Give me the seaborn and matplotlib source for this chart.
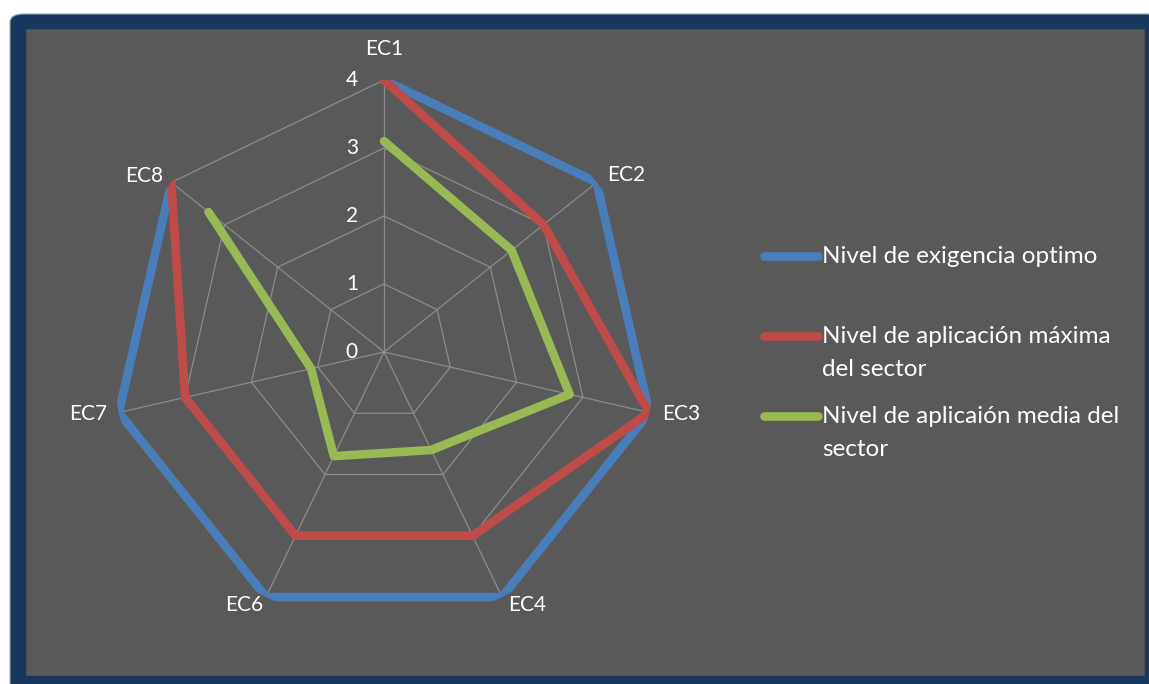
import numpy as np
import pandas as pd
import matplotlib
matplotlib.use("Agg")
import matplotlib.pyplot as plt
import seaborn as sns
from matplotlib.patches import FancyBboxPatch, Rectangle
from matplotlib.lines import Line2D

# datos del gráfico radar
categorias = ["EC1", "EC2", "EC3", "EC4", "EC6", "EC7", "EC8"]
exigencia_optimo = [4, 4, 4, 4, 4, 4, 4]
aplicacion_maxima = [4, 3, 4, 3, 3, 3, 4]
aplicacion_media = [3.1, 2.4, 2.8, 1.6, 1.7, 1.1, 3.3]
series_nombres = [
    "Nivel de exigencia optimo",
    "Nivel de aplicación máxima\ndel sector",
    "Nivel de aplicaión media del\nsector",
]
niveles = [0, 1, 2, 3, 4]

colores = ["#4A7EBB", "#BE4B48", "#98B954"]
FONDO = "#595959"
MARCO = "#17375E"
GRID = "#8C8C8C"

W, H = 1149, 684
sns.set_theme(style="white")
plt.rcParams["font.family"] = ["Lato", "DejaVu Sans"]

fig = plt.figure(figsize=(W / 100, H / 100), dpi=100, facecolor="white")


def fx(px):
    return px / W


def fy(py):
    return 1 - py / H


# marco azul oscuro y área gris
fig.patches.append(FancyBboxPatch((fx(10), fy(700)), fx(1160) - fx(10), fy(14) - fy(700),
                                  boxstyle="round,pad=0,rounding_size=0.012",
                                  transform=fig.transFigure, facecolor=MARCO,
                                  edgecolor="#9AA7B8", linewidth=0.8, zorder=-3))
fig.patches.append(Rectangle((fx(26), fy(675)), fx(1144) - fx(26), fy(29) - fy(675),
                             transform=fig.transFigure, facecolor=FONDO,
                             edgecolor="#4A4F57", linewidth=0.8, zorder=-2))

# ejes polares centrados en (384, 352), radio 272 px
cx, cy, rad = 384, 352, 272
ax = fig.add_axes([fx(cx - rad), fy(cy + rad), fx(2 * rad), fy(cy - rad) - fy(cy + rad)],
                  projection="polar")
ax.set_facecolor("none")
ax.set_theta_zero_location("N")
ax.set_theta_direction(-1)
ax.set_ylim(0, 4)
ax.grid(False)
ax.spines["polar"].set_visible(False)
ax.set_xticks([])
ax.set_yticks([])

n = len(categorias)
angulos = np.linspace(0, 2 * np.pi, n, endpoint=False)
ang_cerrado = np.append(angulos, angulos[0])

# rejilla poligonal
for r in niveles[1:]:
    ax.plot(ang_cerrado, [r] * (n + 1), color=GRID, lw=0.9, zorder=1)
for a in angulos:
    ax.plot([a, a], [0, 4], color=GRID, lw=0.9, zorder=1)

# series
for nombre, valores, color in zip(series_nombres,
                                  [exigencia_optimo, aplicacion_maxima, aplicacion_media],
                                  colores):
    df = pd.DataFrame({"theta": ang_cerrado, "r": valores + valores[:1]})
    sns.lineplot(data=df, x="theta", y="r", sort=False, ax=ax, color=color,
                 lw=6.2, solid_joinstyle="round", zorder=3, legend=False)
ax.set_xlabel("")
ax.set_ylabel("")

# etiquetas del eje radial
for v in niveles:
    ax.annotate(str(v), xy=(0, v), xytext=(-26, 0), textcoords="offset pixels",
                ha="right", va="center", color="white", fontsize=15, zorder=4)

# etiquetas de categorías
desplaz = {
    "EC1": (0, 31, "center"),
    "EC2": (10, 7, "left"),
    "EC3": (13, -1, "left"),
    "EC4": (6, -8, "left"),
    "EC6": (-3, -8, "right"),
    "EC7": (-12, -1, "right"),
    "EC8": (-8, 6, "right"),
}
for cat, a in zip(categorias, angulos):
    dx, dy, ha = desplaz[cat]
    ax.annotate(cat, xy=(a, 4), xytext=(dx, dy), textcoords="offset pixels",
                ha=ha, va="center", color="white", fontsize=15, zorder=4)

# leyenda
ley_y = [256, 336, 416]
for nombre, color, yy in zip(series_nombres, colores, ley_y):
    fig.add_artist(Line2D([fx(764), fx(818)], [fy(yy), fy(yy)], transform=fig.transFigure,
                          color=color, lw=6.2, solid_capstyle="round"))
    fig.text(fx(822), fy(yy - 10), nombre, ha="left", va="top", color="white",
             fontsize=17.5, linespacing=1.68)

fig.savefig("out.png", dpi=100, facecolor="white")
